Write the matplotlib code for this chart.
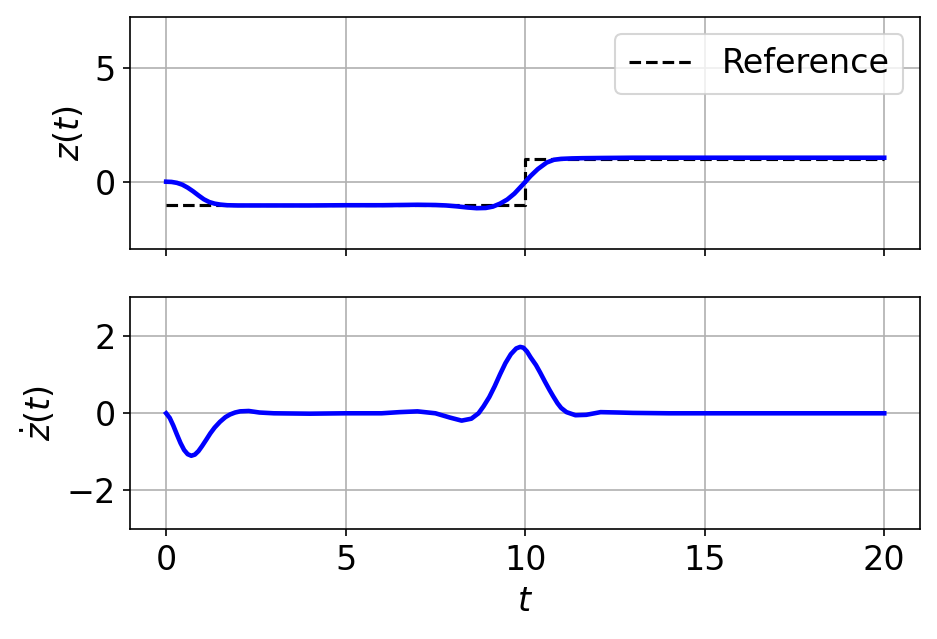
import numpy as np
import matplotlib.pyplot as plt

# reference step
t_ref = [0, 10, 10, 20]
z_ref = [-1, -1, 1, 1]

# tracked position z(t)
t_z = [0, 0.15, 0.3, 0.45, 0.6, 0.75, 0.9, 1.05, 1.2, 1.35, 1.5, 1.7, 2.0,
       2.5, 3, 4, 5, 6, 7, 7.5, 7.8, 8.1, 8.4, 8.65, 8.9, 9.1, 9.3, 9.5,
       9.7, 9.95, 10.15, 10.35, 10.6, 10.8, 11.0, 11.3, 11.6, 12.2,
       13, 14, 15, 16, 17, 18, 19, 20]
z = [0, -0.01, -0.05, -0.13, -0.26, -0.42, -0.6, -0.77, -0.89, -0.96, -1.0,
     -1.03, -1.04, -1.04, -1.04, -1.04, -1.03, -1.03, -1.01, -1.02, -1.04,
     -1.08, -1.13, -1.16, -1.15, -1.09, -0.96, -0.78, -0.52, -0.1, 0.25,
     0.55, 0.84, 0.96, 1.0, 1.02, 1.03, 1.04, 1.05, 1.05, 1.05, 1.05, 1.05,
     1.05, 1.05, 1.05]

# velocity zdot(t)
t_zd = [0, 0.1, 0.2, 0.3, 0.4, 0.5, 0.6, 0.7, 0.8, 0.9, 1.0, 1.12, 1.23,
        1.35, 1.5, 1.65, 1.78, 1.92, 2.06, 2.3, 2.6, 3, 4, 5, 6, 6.5, 7.0,
        7.5, 7.9, 8.23, 8.5, 8.7, 8.84, 9.0, 9.15, 9.3, 9.45, 9.6, 9.75,
        9.86, 9.95, 10.05, 10.15, 10.3, 10.42, 10.55, 10.68, 10.78, 10.9,
        11.0, 11.15, 11.4, 11.7, 12.1, 12.6, 13, 14, 15, 16, 17, 18, 19, 20]
zd = [0, -0.12, -0.32, -0.55, -0.77, -0.95, -1.06, -1.1, -1.07, -0.98, -0.85,
      -0.68, -0.52, -0.37, -0.22, -0.1, -0.03, 0.02, 0.05, 0.06, 0.02, 0.0,
      -0.01, 0.0, 0.0, 0.03, 0.05, 0.0, -0.11, -0.19, -0.14, 0.0, 0.18,
      0.42, 0.7, 1.01, 1.3, 1.53, 1.68, 1.72, 1.7, 1.6, 1.45, 1.25, 1.05,
      0.82, 0.6, 0.44, 0.26, 0.14, 0.03, -0.05, -0.04, 0.03, 0.02, 0.01,
      0.0, 0.0, 0.0, 0.0, 0.0, 0.0, 0.0]

plt.rcParams['font.size'] = 16

fig, (ax1, ax2) = plt.subplots(2, 1, sharex=True, figsize=(937/150, 639/150), dpi=150)
fig.subplots_adjust(left=0.139, right=0.982, top=0.973, bottom=0.172, hspace=0.21)

ax1.plot(t_ref, z_ref, 'k--', lw=1.5, label='Reference')
ax1.plot(t_z, z, color='blue', lw=2.2)
ax1.set_ylabel('$z(t)$')
ax1.set_ylim(-2.94, 7.2)
ax1.grid(True)
ax1.legend(loc='upper right')

ax2.plot(t_zd, zd, color='blue', lw=2.2)
ax2.set_ylabel(r'$\dot{z}(t)$')
ax2.set_ylim(-3, 3)
ax2.set_xlabel('$t$')
ax2.grid(True)
ax2.set_xticks([0, 5, 10, 15, 20])

plt.savefig('out.png', dpi=150)
